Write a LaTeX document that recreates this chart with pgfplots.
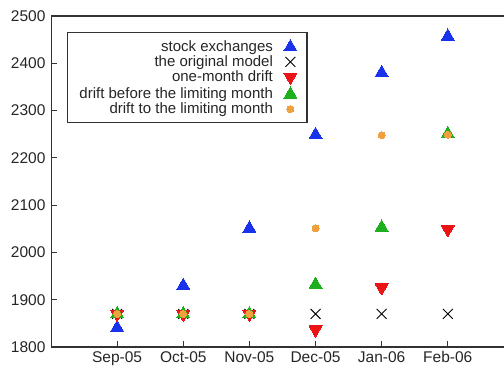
\documentclass[border=0pt]{standalone}
\usepackage{pgfplots}
\pgfplotsset{compat=1.18}
\usepackage{fontspec}
\setmainfont{Liberation Sans}
\definecolor{cblue}{RGB}{25,50,235}
\definecolor{cred}{RGB}{235,20,20}
\definecolor{cgreen}{RGB}{30,175,30}
\definecolor{corange}{RGB}{240,160,60}
\definecolor{axgray}{RGB}{50,50,50}
\begin{document}
\begin{tikzpicture}
\begin{axis}[
  name=ax,
  scale only axis, width=453bp, height=331bp,
  xmin=0, xmax=6.85, ymin=1800, ymax=2500,
  xtick={1,2,3,4,5,6},
  xticklabels={Sep-05,Oct-05,Nov-05,Dec-05,Jan-06,Feb-06},
  ytick={1800,1900,2000,2100,2200,2300,2400,2500},
  axis line style={draw=none},
  tick style={axgray, line width=1.2bp},
  tick align=inside, major tick length=6bp,
  xtick pos=left, ytick pos=left,
  /pgf/number format/assume math mode=true,
  /pgf/number format/1000 sep={},
  tick label style={font=\fontsize{15.5bp}{17bp}\selectfont, text=black!85},
  xticklabel style={yshift=-1bp},
  yticklabel style={xshift=-2bp},
  only marks,
  legend plot pos=right,
  legend cell align=right,
  legend style={at={(0.035,0.952)}, anchor=north west,
    draw=axgray, line width=1.3bp, font=\fontsize{15bp}{16bp}\selectfont,
    nodes={inner ysep=0pt},
    row sep=2.5bp, column sep=9bp, inner xsep=10bp, inner ysep=7bp, text=black!85},
]
\draw[axgray, line width=1.5bp] (rel axis cs:0,1) -- (rel axis cs:0,0) -- (rel axis cs:1,0);
\draw[axgray, line width=1.5bp] (rel axis cs:0,1) -- (rel axis cs:1,1);
\addplot[mark=triangle*, mark size=7.5bp, mark options={fill=cblue, draw=cblue, line width=0pt}]
  coordinates {(1,1841) (2,1930) (3,2051) (4,2249) (5,2380) (6,2457)};
\addlegendentry{stock exchanges}
\addplot[mark=x, mark size=7bp, mark options={draw=black, line width=0.9bp}]
  coordinates {(1,1870) (2,1870) (3,1870) (4,1870) (5,1870) (6,1870)};
\addlegendentry{the original model}
\addplot[mark=triangle*, mark size=7.5bp, mark options={fill=cred, draw=cred, line width=0pt, rotate=180}]
  coordinates {(1,1870) (2,1870) (3,1870) (4,1837) (5,1926) (6,2049)};
\addlegendentry{one-month drift}
\addplot[mark=triangle*, mark size=7.5bp, mark options={fill=cgreen, draw=cgreen, line width=0pt}]
  coordinates {(1,1870) (2,1870) (3,1870) (4,1932) (5,2053) (6,2251)};
\addlegendentry{drift before the limiting month}
\addplot[mark=*, mark size=3.5bp, mark options={fill=corange, draw=corange, line width=0pt}]
  coordinates {(1,1870) (2,1870) (3,1870) (4,2051) (5,2248) (6,2249)};
\addlegendentry{drift to the limiting month}
\end{axis}
\pgfresetboundingbox
\useasboundingbox ([shift={(-51bp,-24bp)}]ax.south west) rectangle ([shift={(0bp,16bp)}]ax.north east);
\end{tikzpicture}
\end{document}
